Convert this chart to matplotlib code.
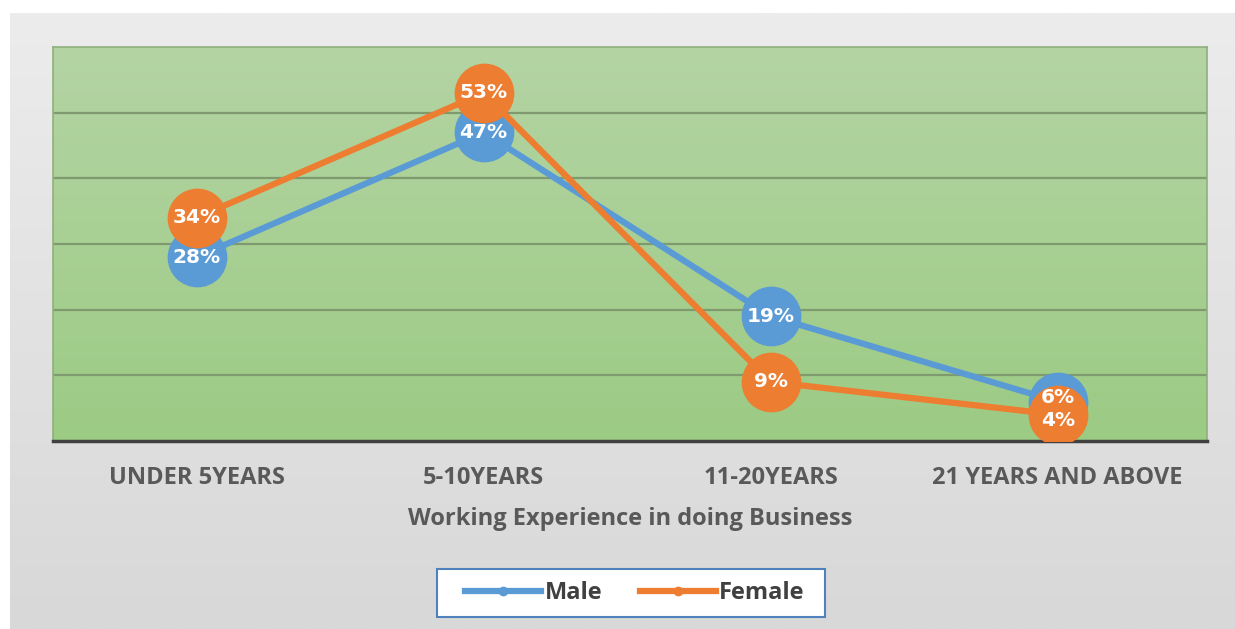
import numpy as np
import matplotlib.pyplot as plt
from matplotlib.lines import Line2D
from matplotlib.patches import Rectangle
from matplotlib.colors import LinearSegmentedColormap

# Datos
categorias = ["UNDER 5YEARS", "5-10YEARS", "11-20YEARS", "21 YEARS AND ABOVE"]
male = [28, 47, 19, 6]
female = [34, 53, 9, 4]

azul = "#5b9bd5"
naranja = "#ed7d31"

plt.rcParams['font.family'] = ['Open Sans', 'DejaVu Sans']

fig = plt.figure(figsize=(12.35, 6.29), dpi=100)
fig.patch.set_facecolor("white")

# fondo gris con degradado
bg = fig.add_axes([10 / 1235, 0, 1 - 10 / 1235, 1 - 13 / 629], zorder=-2)
grad = np.linspace(0, 1, 256).reshape(-1, 1)
cmap_bg = LinearSegmentedColormap.from_list("bg", ["#ececec", "#d8d8d8"])
bg.imshow(grad, aspect="auto", cmap=cmap_bg, extent=[0, 1, 0, 1], origin="upper")
bg.axis("off")

# area del grafico
ax = fig.add_axes([53 / 1235, 1 - 441 / 629, (1207 - 53) / 1235, (441 - 47) / 629])
cmap_g = LinearSegmentedColormap.from_list("g", ["#b4d4a4", "#9ccb84"])
ax.imshow(grad, aspect="auto", cmap=cmap_g, extent=[-0.5, 3.52, 0, 60],
          origin="upper", zorder=0)

x = np.arange(len(categorias))
ax.plot(x, male, color=azul, lw=4.5, marker="o", markersize=42,
        label="Male", zorder=3)
ax.plot(x, female, color=naranja, lw=4.5, marker="o", markersize=42,
        label="Female", zorder=4)

# etiquetas de datos (las dos ultimas se separan un poco)
desp_m = [0, 0, 0, 3]
desp_f = [0, 0, 0, -4]
for xi, v, d in zip(x, male, desp_m):
    ax.annotate(f"{v}%", (xi, v), xytext=(0, d), textcoords="offset points",
                ha="center", va="center", color="white", fontsize=14.5,
                fontweight="bold", family="DejaVu Sans", zorder=6)
for xi, v, d in zip(x, female, desp_f):
    ax.annotate(f"{v}%", (xi, v), xytext=(0, d), textcoords="offset points",
                ha="center", va="center", color="white", fontsize=14.5,
                fontweight="bold", family="DejaVu Sans", zorder=6)

ax.set_xlim(-0.5, 3.52)
ax.set_ylim(0, 60)
ax.set_yticks(np.arange(10, 60, 10))
ax.set_yticklabels([])
ax.tick_params(axis="y", length=0)
ax.grid(axis="y", color="#7f9a6e", lw=1.6, zorder=1)
ax.set_xticks(x)
ax.set_xticklabels(categorias, fontsize=17, fontweight="bold", color="#595959")
ax.tick_params(axis="x", length=0, pad=18)
ax.set_xlabel("Working Experience in doing Business", fontsize=17,
              fontweight="bold", color="#595959", labelpad=12)

for lado in ["top", "left", "right"]:
    ax.spines[lado].set_color("#8fb07c")
    ax.spines[lado].set_linewidth(1.2)
ax.spines["bottom"].set_color("#404040")
ax.spines["bottom"].set_linewidth(2.5)

# caja de la leyenda
caja = Rectangle((437 / 1235, 1 - 617 / 629), (825 - 437) / 1235, 48 / 629,
                 transform=fig.transFigure, facecolor="white",
                 edgecolor="#4f81bd", lw=1.5, zorder=1)
fig.patches.append(caja)

handles = [Line2D([0], [0], color=azul, lw=4.5, marker="o", markersize=6),
           Line2D([0], [0], color=naranja, lw=4.5, marker="o", markersize=6)]
leg = fig.legend(handles, ["Male", "Female"], loc="center",
                 bbox_to_anchor=(635 / 1235, 1 - 593 / 629), ncol=2,
                 frameon=False, handlelength=3.2,
                 handletextpad=0.15, columnspacing=1.6, borderpad=0.4,
                 borderaxespad=0, prop={"size": 17, "weight": "bold"})
leg.set_zorder(2)
for t in leg.get_texts():
    t.set_color("#404040")

fig.savefig("out.png", dpi=100)
